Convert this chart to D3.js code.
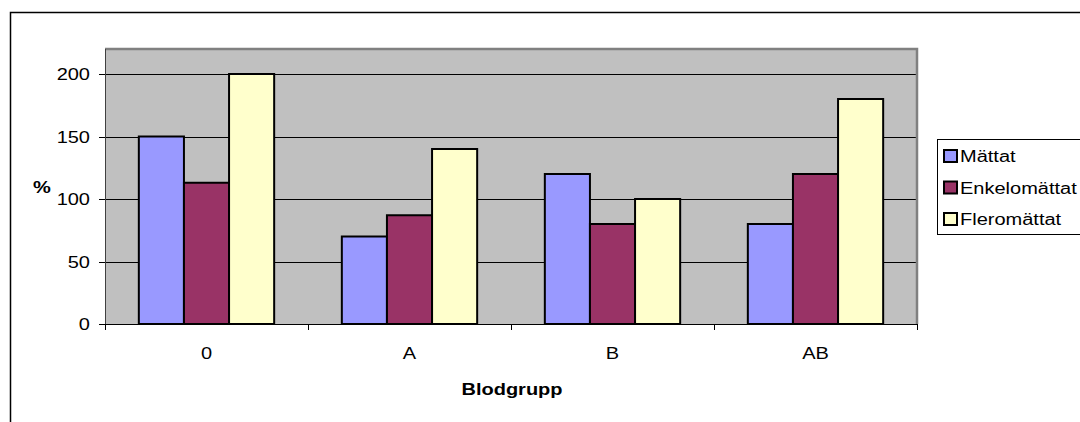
<!DOCTYPE html>
<html>
<head>
<meta charset="utf-8">
<script src="https://cdn.jsdelivr.net/npm/d3@7"></script>
<style>
    body { margin: 0; background: #fff; }
    svg text { font-family: "Liberation Sans", Arial, sans-serif; font-size: 16px; fill: #000; }
</style>
</head>
<body>
<div id="chart"></div>
<script>

// Data
var categories = ["0", "A", "B", "AB"];
var seriesNames = ["Mättat", "Enkelomättat", "Fleromättat"];
var mattat = [150, 70, 120, 80];
var enkelomattat = [113, 87, 80, 120];
var fleromattat = [200, 140, 100, 180];
var yTicks = [0, 50, 100, 150, 200];

var seriesValues = [mattat, enkelomattat, fleromattat];
var colors = ["#9999FF", "#993366", "#FFFFCC"];

// the original picture is stretched sideways, so text gets the same stretch
var sx = 1.25;

var margin = { top: 49, left: 105 };
var plotW = 917 - 105;
var plotH = 324 - 49;

var svg = d3.select("#chart").append("svg")
    .attr("width", 1080)
    .attr("height", 422);

// outer frame (runs off the right and bottom edge)
svg.append("rect")
    .attr("x", 10.5)
    .attr("y", 12.5)
    .attr("width", 1200)
    .attr("height", 600)
    .attr("fill", "none")
    .attr("stroke", "#000")
    .attr("stroke-width", 1.5);

var g = svg.append("g")
    .attr("transform", "translate(" + margin.left + "," + margin.top + ")");

var x0 = d3.scaleBand()
    .domain(categories)
    .range([0, plotW]);

// Excel style: gap of 150% of a bar width
var barW = x0.bandwidth() / 4.5;
var x1 = d3.scaleBand()
    .domain(seriesNames)
    .range([barW * 0.75, barW * 3.75]);

var y = d3.scaleLinear()
    .domain([0, 220])
    .range([plotH, 0]);

// plot area
g.append("rect")
    .attr("width", plotW)
    .attr("height", plotH)
    .attr("fill", "#C0C0C0");

g.selectAll(".grid")
    .data(yTicks.filter(function(d) { return d > 0; }))
    .enter().append("line")
    .attr("class", "grid")
    .attr("x1", 0)
    .attr("x2", plotW)
    .attr("y1", function(d) { return Math.round(y(d)) + 0.5; })
    .attr("y2", function(d) { return Math.round(y(d)) + 0.5; })
    .attr("stroke", "#000")
    .attr("stroke-width", 1);

// gray top and right border
g.append("path")
    .attr("d", "M0,0H" + plotW + "V" + plotH)
    .attr("fill", "none")
    .attr("stroke", "#808080")
    .attr("stroke-width", 2.5);

// bars
var groups = g.selectAll(".group")
    .data(categories)
    .enter().append("g")
    .attr("class", "group")
    .attr("transform", function(d) { return "translate(" + x0(d) + ",0)"; });

groups.selectAll("rect")
    .data(function(d, i) {
        return seriesNames.map(function(s, j) {
            return { series: s, value: seriesValues[j][i], color: colors[j] };
        });
    })
    .enter().append("rect")
    .attr("x", function(d) { return x1(d.series); })
    .attr("y", function(d) { return y(d.value); })
    .attr("width", x1.bandwidth())
    .attr("height", function(d) { return plotH - y(d.value); })
    .attr("fill", function(d) { return d.color; })
    .attr("stroke", "#000")
    .attr("stroke-width", 2);

// y axis
var yAxis = g.append("g");
yAxis.append("line")
    .attr("x1", 0.5).attr("x2", 0.5)
    .attr("y1", 0).attr("y2", plotH)
    .attr("stroke", "#404040");

yAxis.selectAll(".ytick")
    .data(yTicks)
    .enter().append("line")
    .attr("x1", -6).attr("x2", 0)
    .attr("y1", function(d) { return Math.round(y(d)) + 0.5; })
    .attr("y2", function(d) { return Math.round(y(d)) + 0.5; })
    .attr("stroke", "#000");

yAxis.selectAll(".ylabel")
    .data(yTicks)
    .enter().append("text")
    .attr("text-anchor", "end")
    .attr("transform", function(d) {
        return "translate(-15," + (y(d) + 6) + ") scale(" + sx + ",1)";
    })
    .text(function(d) { return d; });

// x axis
var xAxis = g.append("g")
    .attr("transform", "translate(0," + plotH + ")");

xAxis.append("line")
    .attr("x1", 0).attr("x2", plotW)
    .attr("y1", 0.5).attr("y2", 0.5)
    .attr("stroke", "#000");

xAxis.selectAll(".xtick")
    .data(d3.range(categories.length + 1))
    .enter().append("line")
    .attr("x1", function(i) { return Math.round(i * x0.step()) + 0.5; })
    .attr("x2", function(i) { return Math.round(i * x0.step()) + 0.5; })
    .attr("y1", 0)
    .attr("y2", 6)
    .attr("stroke", "#000");

xAxis.selectAll(".xlabel")
    .data(categories)
    .enter().append("text")
    .attr("text-anchor", "middle")
    .attr("transform", function(d) {
        return "translate(" + (x0(d) + x0.bandwidth() / 2) + ",35) scale(" + sx + ",1)";
    })
    .text(function(d) { return d; });

// axis titles
svg.append("text")
    .attr("text-anchor", "middle")
    .attr("font-weight", "bold")
    .attr("transform", "translate(512,395) scale(" + sx + ",1)")
    .style("font-weight", "bold")
    .text("Blodgrupp");

svg.append("text")
    .attr("text-anchor", "middle")
    .attr("transform", "translate(42,193) scale(" + sx + ",1)")
    .style("font-weight", "bold")
    .text("%");

// legend
var legend = svg.append("g")
    .attr("transform", "translate(937,139)");

legend.append("rect")
    .attr("x", 0.5)
    .attr("y", 0.5)
    .attr("width", 200)
    .attr("height", 95)
    .attr("fill", "#fff")
    .attr("stroke", "#000");

var items = legend.selectAll(".item")
    .data(seriesNames)
    .enter().append("g")
    .attr("class", "item")
    .attr("transform", function(d, i) { return "translate(0," + (17 + i * 31.5) + ")"; });

items.append("rect")
    .attr("x", 7)
    .attr("y", -6)
    .attr("width", 13)
    .attr("height", 12)
    .attr("fill", function(d, i) { return colors[i]; })
    .attr("stroke", "#000")
    .attr("stroke-width", 2);

items.append("text")
    .attr("transform", "translate(23,6) scale(" + sx + ",1)")
    .text(function(d) { return d; });

</script>
</body>
</html>
